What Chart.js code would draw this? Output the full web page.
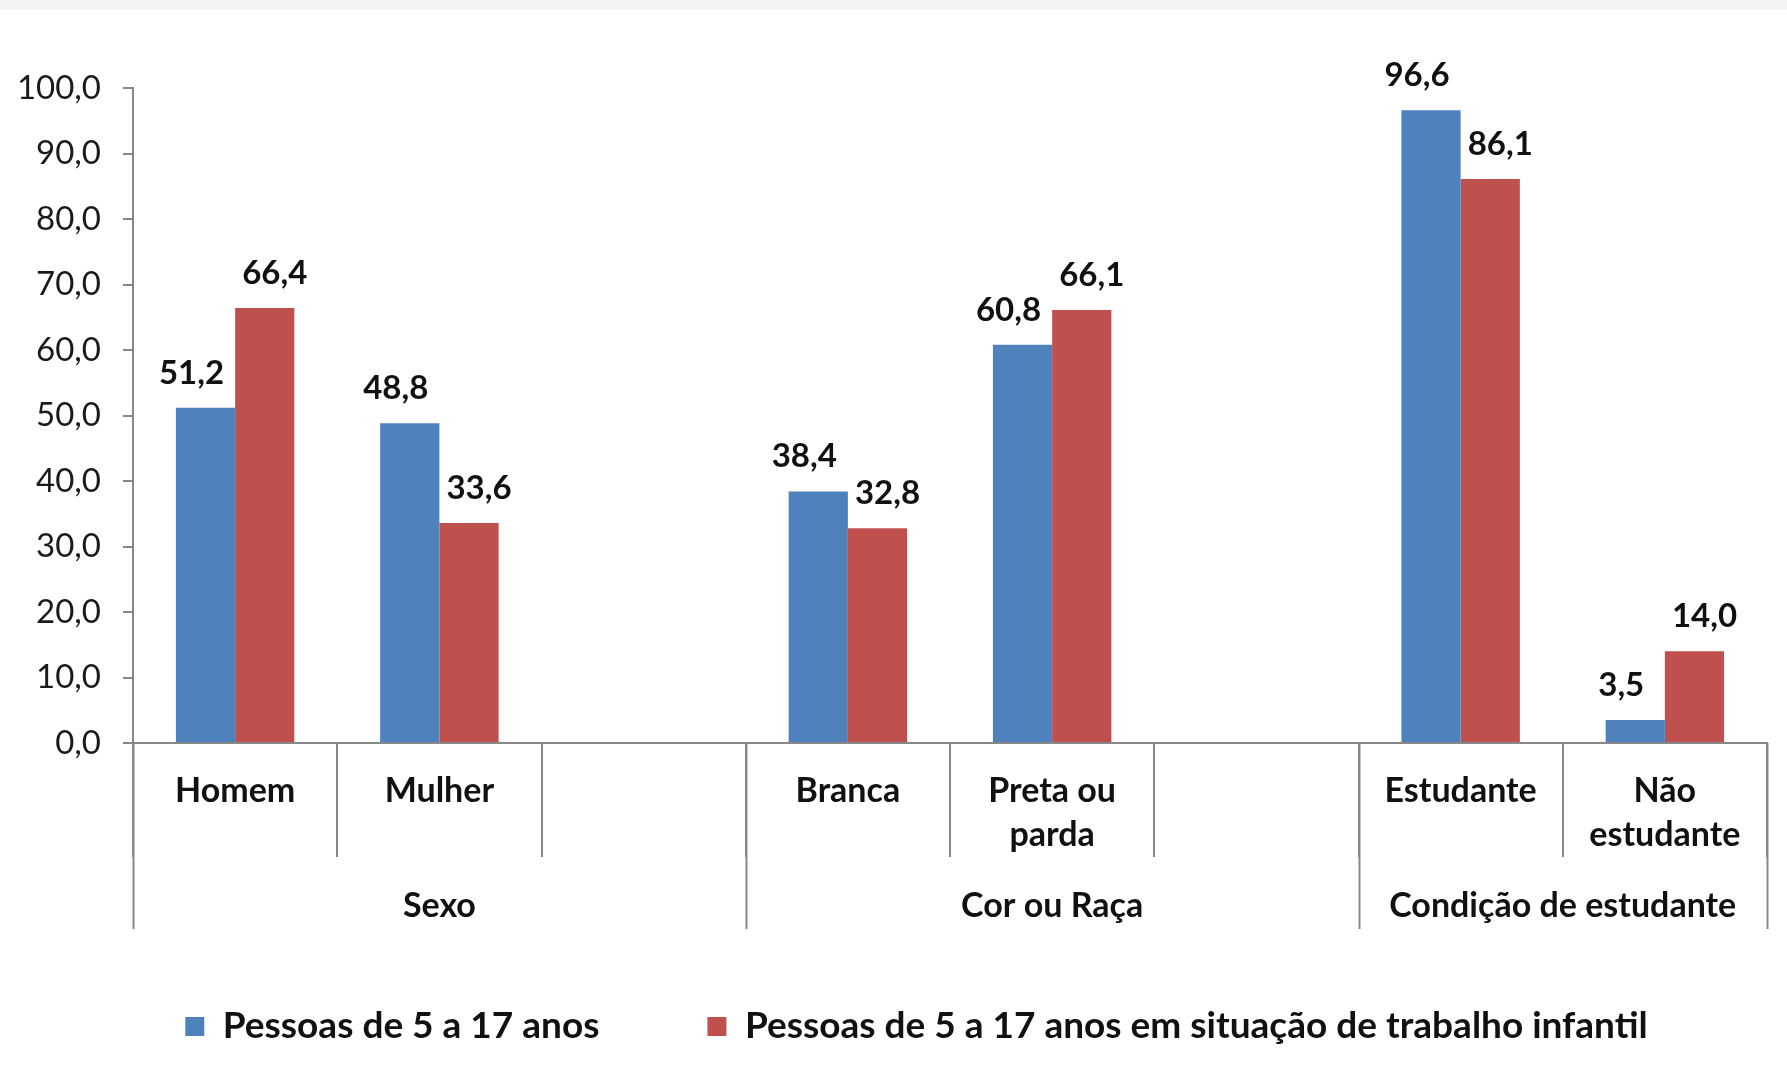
<!DOCTYPE html>
<html>
<head>
<meta charset="utf-8">
<script src="https://cdn.jsdelivr.net/npm/chart.js@4.4.1/dist/chart.umd.min.js"></script>
<style>
  html, body { margin: 0; padding: 0; background: #fff; }
  #wrap { width: 1787px; height: 1069px; }
</style>
</head>
<body>
<div id="wrap"><canvas id="grafico" width="1787" height="1069"></canvas></div>
<script>
// Dados
const categorias = ['Homem', 'Mulher', '', 'Branca', ['Preta ou', 'parda'], '', 'Estudante', ['Não', 'estudante']];
const pessoas = [51.2, 48.8, null, 38.4, 60.8, null, 96.6, 3.5];
const trabalhoInfantil = [66.4, 33.6, null, 32.8, 66.1, null, 86.1, 14.0];
const grupos = ['Sexo', 'Cor ou Raça', 'Condição de estudante'];
const grupoInicio = [0, 3, 6];
const grupoFim = [3, 6, 8];
const serieNomes = ['Pessoas de 5 a 17 anos', 'Pessoas de 5 a 17 anos em situação de trabalho infantil'];
const yTicks = [0, 10, 20, 30, 40, 50, 60, 70, 80, 90, 100];

const CINZA = '#888888';
const FONTE = 'Lato';

function formatar(v) {
    return v.toFixed(1).replace('.', ',');
}

// Faixa cinza no topo e fundo branco
const fundo = {
    id: 'fundo',
    beforeDraw(chart) {
        const ctx = chart.ctx;
        ctx.save();
        ctx.fillStyle = '#ffffff';
        ctx.fillRect(0, 0, chart.width, chart.height);
        ctx.fillStyle = '#f4f4f4';
        ctx.fillRect(0, 0, chart.width, 10);
        ctx.restore();
    }
};

// Legenda um pouco deslocada para a direita, como no original
const moverLegenda = {
    id: 'moverLegenda',
    afterLayout(chart) {
        if (chart.legend) {
            chart.legend.left += 33;
            chart.legend.right += 33;
        }
    }
};

// Rótulos de valores acima das barras (azul um pouco à esquerda, vermelho à direita)
const deslocRotulo = [-14, 10];
const rotulos = {
    id: 'rotulos',
    afterDatasetsDraw(chart) {
        const ctx = chart.ctx;
        ctx.save();
        ctx.font = 'bold 33px ' + FONTE;
        ctx.fillStyle = '#111';
        ctx.textAlign = 'center';
        ctx.textBaseline = 'alphabetic';
        chart.data.datasets.forEach((ds, i) => {
            chart.getDatasetMeta(i).data.forEach((bar, j) => {
                const v = ds.data[j];
                if (v === null) return;
                ctx.fillText(formatar(v), bar.x + deslocRotulo[i], bar.y - 24);
            });
        });
        ctx.restore();
    }
};

// Linhas longas e nomes dos grupos no eixo x
const gruposEixo = {
    id: 'gruposEixo',
    afterDraw(chart) {
        const x = chart.scales.x;
        const n = categorias.length;
        const passo = x.width / n;
        const base = x.top;
        const ctx = chart.ctx;
        ctx.save();
        ctx.strokeStyle = CINZA;
        ctx.lineWidth = 2;
        const limites = new Set();
        grupoInicio.forEach((s, k) => { limites.add(s); limites.add(grupoFim[k]); });
        limites.forEach(i => {
            const px = Math.round(x.left + i * passo) + 0.5;
            ctx.beginPath();
            ctx.moveTo(px, base);
            ctx.lineTo(px, base + 186);
            ctx.stroke();
        });
        ctx.font = 'bold 34px ' + FONTE;
        ctx.fillStyle = '#111';
        ctx.textAlign = 'center';
        ctx.textBaseline = 'middle';
        grupos.forEach((g, k) => {
            const meio = x.left + (grupoInicio[k] + grupoFim[k]) / 2 * passo;
            ctx.fillText(g, meio, base + 163);
        });
        ctx.restore();
    }
};

const ctx = document.getElementById('grafico').getContext('2d');
new Chart(ctx, {
    type: 'bar',
    data: {
        labels: categorias,
        datasets: [
            { label: serieNomes[0], data: pessoas, backgroundColor: '#4F81BD' },
            { label: serieNomes[1], data: trabalhoInfantil, backgroundColor: '#C0504D' }
        ]
    },
    options: {
        responsive: false,
        animation: false,
        devicePixelRatio: 1,
        categoryPercentage: 0.58,
        barPercentage: 1.0,
        layout: { padding: { top: 88, right: 20, left: 0, bottom: 14 } },
        plugins: {
            legend: {
                position: 'bottom',
                labels: {
                    boxWidth: 19,
                    boxHeight: 19,
                    padding: 108,
                    color: '#111',
                    font: { family: FONTE, size: 37, weight: 'bold' }
                }
            },
            tooltip: { enabled: false }
        },
        scales: {
            x: {
                offset: true,
                border: { display: true, color: CINZA, width: 2 },
                grid: {
                    display: true,
                    offset: true,
                    drawOnChartArea: false,
                    drawTicks: true,
                    tickLength: 114,
                    color: CINZA,
                    lineWidth: 2
                },
                ticks: {
                    padding: -88,
                    maxRotation: 0,
                    autoSkip: false,
                    color: '#111',
                    font: { family: FONTE, size: 34, weight: 'bold', lineHeight: 1.3 }
                },
                afterFit(scale) { scale.height = 157; }
            },
            y: {
                min: 0,
                max: 100,
                border: { display: true, color: CINZA, width: 2 },
                grid: {
                    display: true,
                    drawOnChartArea: false,
                    tickLength: 10,
                    color: CINZA,
                    lineWidth: 2
                },
                afterBuildTicks(scale) {
                    scale.ticks = yTicks.map(v => ({ value: v }));
                },
                ticks: {
                    padding: 22,
                    color: '#1a1a1a',
                    font: { family: FONTE, size: 33 },
                    callback: (v) => formatar(v)
                },
                afterFit(scale) { scale.width = 133; }
            }
        }
    },
    plugins: [fundo, moverLegenda, rotulos, gruposEixo]
});
</script>
</body>
</html>
